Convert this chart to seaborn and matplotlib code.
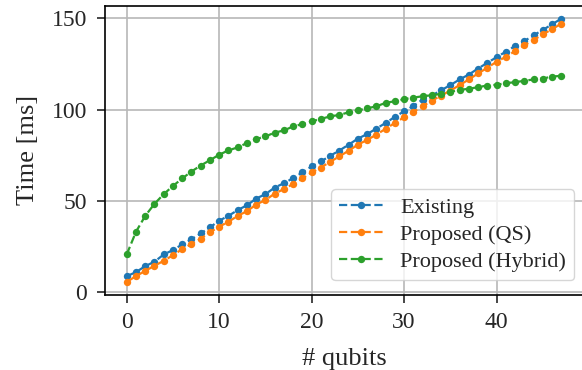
import numpy as np
import pandas as pd
import matplotlib
matplotlib.use("Agg")
import matplotlib.pyplot as plt
import seaborn as sns

# Values
qubits = list(range(48))

existing = [8.8, 11.0, 14.3, 16.7, 20.7, 23.1, 26.2, 29.0, 32.2, 35.5,
            39.2, 41.8, 45.0, 47.6, 51.3, 53.7, 57.3, 59.7, 62.5, 65.6,
            68.9, 71.6, 74.7, 77.6, 80.8, 84.1, 86.6, 89.6, 92.7, 96.0,
            99.1, 102.0, 105.5, 107.7, 110.6, 113.4, 116.5, 119.2, 122.5, 125.6,
            128.7, 131.7, 134.8, 137.5, 140.7, 143.6, 146.7, 149.8]

proposed_qs = [5.7, 8.8, 11.7, 14.5, 17.2, 20.3, 23.6, 26.4, 29.3, 32.8,
               35.9, 38.6, 41.8, 44.4, 48.0, 50.5, 54.0, 56.5, 59.3, 62.3,
               65.6, 68.3, 71.4, 74.4, 77.5, 80.8, 83.4, 86.3, 89.5, 92.7,
               95.8, 98.7, 101.8, 104.9, 107.7, 110.4, 113.4, 116.5, 119.8, 122.9,
               126.2, 128.9, 132.0, 135.2, 138.1, 141.2, 144.0, 147.1]

proposed_hybrid = [20.7, 33.1, 41.8, 48.4, 53.7, 58.2, 62.3, 66.1, 69.4, 72.3,
                   75.3, 77.7, 79.3, 81.7, 83.9, 85.3, 87.4, 88.6, 90.8, 92.1,
                   93.6, 94.9, 96.3, 97.1, 98.5, 99.6, 100.7, 101.8, 103.7, 104.6,
                   105.7, 106.6, 107.3, 107.9, 108.6, 109.7, 110.8, 111.4, 112.3, 113.2,
                   113.6, 114.5, 115.0, 115.8, 116.5, 117.0, 118.1, 118.5]

series_names = ["Existing", "Proposed (QS)", "Proposed (Hybrid)"]

sns.set_theme(style="ticks", rc={"axes.grid": True, "grid.color": "#b8b8b8",
                                 "grid.linewidth": 1.2,
                                 "axes.edgecolor": "black", "axes.linewidth": 1.2,
                                 "xtick.major.size": 5.5, "ytick.major.size": 5.5,
                                 "xtick.major.width": 1.2, "ytick.major.width": 1.2,
                                 "xtick.major.pad": 6.5, "ytick.major.pad": 7.5})
plt.rcParams["font.family"] = ["Liberation Serif", "DejaVu Serif"]

df = pd.DataFrame({
    "qubits": qubits * 3,
    "time": existing + proposed_qs + proposed_hybrid,
    "series": np.repeat(series_names, len(qubits)),
})

fig = plt.figure(figsize=(5.82, 3.70), dpi=100)
# axes box in pixels: left 105, right 583 (just past the image edge), top 5.5, bottom 295
ax = fig.add_axes([105 / 582, 1 - 295 / 370, (583 - 105) / 582, (295 - 5.5) / 370])

sns.lineplot(data=df, x="qubits", y="time", hue="series", hue_order=series_names,
             palette=["#1f77b4", "#ff7f0e", "#2ca02c"], marker="o", markersize=5.3,
             markeredgewidth=0, linestyle="--", linewidth=1.6, ax=ax)

ax.set_xlabel("# qubits", fontsize=19, labelpad=11)
ax.set_ylabel("Time [ms]", fontsize=19, labelpad=9)
ax.set_xticks([0, 10, 20, 30, 40])
ax.set_yticks([0, 50, 100, 150])
ax.tick_params(labelsize=17)
ax.legend(title=None, loc="lower right", bbox_to_anchor=(574 / 582, 1 - 280 / 370),
          bbox_transform=fig.transFigure, fontsize=16, framealpha=0.8,
          edgecolor="#cccccc", handlelength=2.0, handletextpad=0.75,
          labelspacing=0.3, borderpad=0.35, borderaxespad=0)

fig.savefig("out.png", dpi=100)
